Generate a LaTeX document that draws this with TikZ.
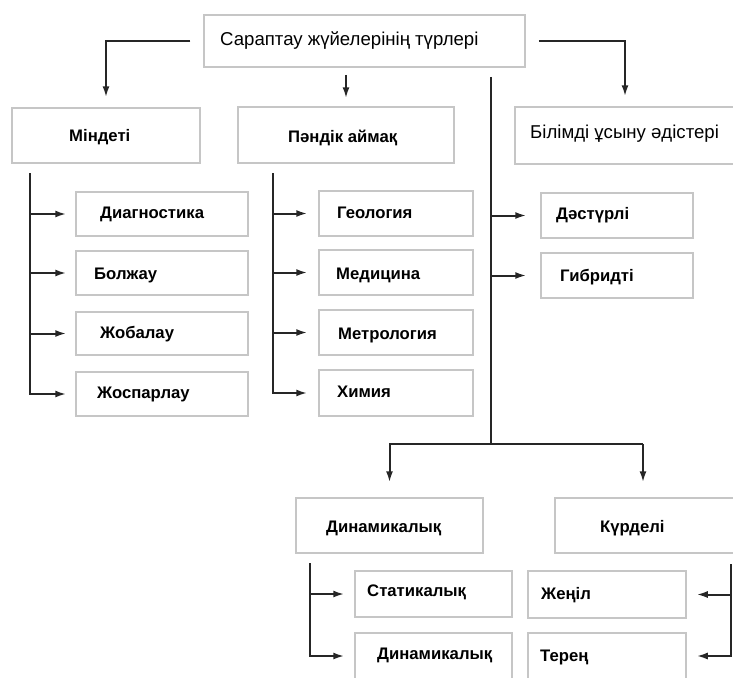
\documentclass[tikz,border=0pt]{standalone}
\usepackage{fontspec}
\setmainfont{Liberation Sans}
\usetikzlibrary{arrows.meta,fit,shadows}

\tikzset{
  x=1pt, y=-1pt,
  box/.style={draw=gray!45, line width=1.5pt, fill=white, inner sep=0pt,
    drop shadow={shadow xshift=0.8pt, shadow yshift=-0.8pt, opacity=0.12, fill=gray}},
  txt/.style={inner sep=0pt, anchor=base west, text=black,
    font=\fontsize{16.7}{19}\selectfont\bfseries},
  txtr/.style={txt, font=\fontsize{18.6}{21}\selectfont},
  wire/.style={draw=black!85, line width=2pt},
  arr/.style={wire, -{Latex[length=11pt,width=7pt]}},
}

% box: name, left, top, right, bottom
\newcommand\bx[5]{\node[box, fit={(#2,#3) (#4,#5)}] (#1) {};}
% label: name, x, visual middle y, text, style
\newcommand\lb[5][txt]{\node[#1] (#2) at (#3,#4+6) {#5};}

\begin{document}
\begin{tikzpicture}
\useasboundingbox (0,0) rectangle (733,677);
\fill[white] (0,0) rectangle (733,677);
\clip (0,0) rectangle (733,677);

% --- boxes ---
\bx{top}{204}{15}{525}{67}
\bx{mind}{12}{108}{200}{163}
\bx{pand}{238}{107}{454}{163}
\bx{bil}{515}{107}{735}{164}

\bx{diag}{76}{192}{248}{236}
\bx{bolj}{76}{251}{248}{295}
\bx{jobal}{76}{312}{248}{355}
\bx{josp}{76}{372}{248}{416}

\bx{geol}{319}{191}{473}{236}
\bx{medi}{319}{250}{473}{295}
\bx{metr}{319}{310}{473}{355}
\bx{himi}{319}{370}{473}{416}

\bx{dast}{541}{193}{693}{238}
\bx{gibr}{541}{253}{693}{298}

\bx{dyn}{296}{498}{483}{553}
\bx{kur}{555}{498}{740}{553}

\bx{stat}{355}{571}{512}{617}
\bx{dynb}{355}{633}{512}{679}
\bx{jen}{528}{571}{686}{618}
\bx{ter}{528}{633}{686}{679}

% --- labels ---
\lb[txtr]{topL}{220}{40}{Сараптау жүйелерінің түрлері}
\lb{mindL}{69}{135}{Міндеті}
\lb{pandL}{288}{136}{Пәндік аймақ}
\lb[txtr]{bilL}{530}{132}{Білімді ұсыну әдістері}

\lb{diagL}{100}{212}{Диагностика}
\lb{boljL}{94}{273}{Болжау}
\lb{jobalL}{100}{332}{Жобалау}
\lb{jospL}{97}{392}{Жоспарлау}

\lb{geolL}{337}{212}{Геология}
\lb{mediL}{336}{273}{Медицина}
\lb{metrL}{338}{333}{Метрология}
\lb{himiL}{337}{391}{Химия}

\lb{dastL}{556}{213}{Дәстүрлі}
\lb{gibrL}{560}{275}{Гибридті}

\lb{dynL}{326}{526}{Динамикалық}
\lb{kurL}{600}{526}{Күрделі}
\lb{statL}{367}{590}{Статикалық}
\lb{dynbL}{377}{653}{Динамикалық}
\lb{jenL}{541}{593}{Жеңіл}
\lb{terL}{540}{655}{Терең}

% --- connectors from the title box ---
\draw[arr, shorten <=13pt, shorten >=10pt] (top.west) -| (mind.north);
\draw[arr, shorten <=7pt, shorten >=8pt] (top.south -| pand.north) -- (pand.north);
\draw[arr, shorten <=13pt, shorten >=10pt] (top.east) -| (bil.north);

% long spine down to the lower pair
\coordinate (sp) at (491,444);
\coordinate (kj) at (643,444);
\draw[wire, shorten <=9pt] (top.south -| sp) -- (sp);
\draw[arr, shorten >=15pt] (sp) -| (dyn.north);
\draw[wire] (sp) -- (kj);
\draw[arr, shorten >=15pt] (kj) -- (kj |- kur.north);
\draw[arr, shorten >=14pt] (sp |- dast.west) -- (dast.west);
\draw[arr, shorten >=14pt] (sp |- gibr.west) -- (gibr.west);

% Міндеті branches
\coordinate (mt) at (30,173);
\foreach \n in {diag,bolj,jobal,josp}
  \draw[arr, shorten >=9pt] (mt) |- (\n.west);

% Пәндік аймақ branches
\coordinate (pt) at (273,173);
\foreach \n in {geol,medi,metr,himi}
  \draw[arr, shorten >=11pt] (pt) |- (\n.west);

% Динамикалық branches
\coordinate (dt) at (310,563);
\foreach \n in {stat,dynb}
  \draw[arr, shorten >=10pt] (dt) |- (\n.west);

% Күрделі branches (from the right)
\coordinate (kt) at (731,564);
\foreach \n in {jen,ter}
  \draw[arr, shorten >=10pt] (kt) |- (\n.east);
\end{tikzpicture}
\end{document}
